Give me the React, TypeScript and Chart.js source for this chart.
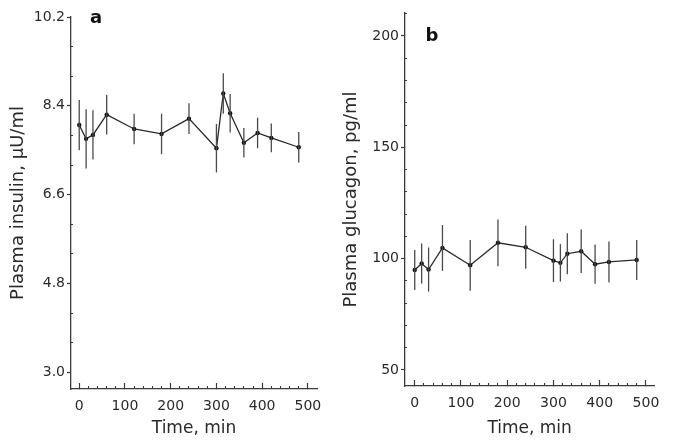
import React, { useEffect, useRef } from "react";
import { Chart, registerables } from "chart.js";

Chart.register(...registerables);

// ---- data ----
const timesInsulin = [0, 15, 30, 60, 120, 180, 240, 300, 315, 330, 360, 390, 420, 480];
const insulinMean = [8.01, 7.73, 7.81, 8.22, 7.93, 7.83, 8.14, 7.54, 8.65, 8.25, 7.65, 7.85, 7.75, 7.56];
const insulinSem = [0.51, 0.6, 0.5, 0.4, 0.31, 0.41, 0.31, 0.49, 0.41, 0.39, 0.3, 0.31, 0.29, 0.31];

const timesGlucagon = [0, 15, 30, 60, 120, 180, 240, 300, 315, 330, 360, 390, 420, 480];
const glucagonMean = [94.9, 97.8, 95.1, 104.8, 97.0, 107.1, 105.1, 99.1, 98.1, 102.2, 103.3, 97.5, 98.5, 99.4];
const glucagonSem = [9.0, 9.0, 9.9, 10.3, 11.4, 10.5, 9.7, 9.6, 8.4, 9.2, 9.8, 8.8, 9.2, 9.0];

const timeTicks = [0, 100, 200, 300, 400, 500];
const timeMinorTicks = [20, 40, 60, 80, 120, 140, 160, 180, 220, 240, 260, 280, 320, 340, 360, 380, 420, 440, 460, 480];
const insulinTicks = [3.0, 4.8, 6.6, 8.4, 10.2];
const insulinMinorTicks = [3.6, 4.2, 5.4, 6.0, 7.2, 7.8, 9.0, 9.6];
const glucagonTicks = [50, 100, 150, 200];
const glucagonMinorTicks = [60, 70, 80, 90, 110, 120, 130, 140, 160, 170, 180, 190, 200, 210].filter((v) => v !== 200);

const xTitle = "Time, min";
const insulinTitle = "Plasma insulin, \u03bcU/ml";
const glucagonTitle = "Plasma glucagon, pg/ml";

// ---- styles ----
const FONT = "'DejaVu Sans', 'Liberation Sans', sans-serif";
const INK = "#2a2a2a";
const AXIS = "#3a3a3a";

type PanelSpec = {
  letter: string;
  letterDx: number;
  letterY: number;
  times: number[];
  mean: number[];
  sem: number[];
  xMin: number;
  xMax: number;
  yMin: number;
  yMax: number;
  yTicks: number[];
  yMinor: number[];
  decimals: number;
  yTitle: string;
  yWidth: number;
  yTitlePad: number;
  xHeight: number;
  padTop: number;
  padRight: number;
};

const errorBarPlugin = {
  id: "errorBars",
  afterDatasetsDraw(chart: any) {
    const spec: PanelSpec = chart.options.plugins.errorBars.spec;
    const xs = chart.scales.x;
    const ys = chart.scales.y;
    const ctx = chart.ctx;
    ctx.save();
    ctx.strokeStyle = "#4a4a4a";
    ctx.lineWidth = 1.3;
    spec.times.forEach((t: number, i: number) => {
      const px = xs.getPixelForValue(t);
      const top = ys.getPixelForValue(spec.mean[i] + spec.sem[i]);
      const bot = ys.getPixelForValue(spec.mean[i] - spec.sem[i]);
      ctx.beginPath();
      ctx.moveTo(px, top);
      ctx.lineTo(px, bot);
      ctx.stroke();
    });
    ctx.restore();
  },
};

const letterPlugin = {
  id: "panelLetter",
  afterDraw(chart: any) {
    const spec: PanelSpec = chart.options.plugins.panelLetter.spec;
    const ctx = chart.ctx;
    ctx.save();
    ctx.font = `bold 18px ${FONT}`;
    ctx.fillStyle = "#111";
    ctx.textAlign = "center";
    ctx.textBaseline = "middle";
    ctx.fillText(spec.letter, chart.chartArea.left + spec.letterDx, spec.letterY);
    ctx.restore();
  },
};

function makeChart(canvas: HTMLCanvasElement, spec: PanelSpec) {
  return new Chart(canvas, {
    type: "line",
    data: {
      datasets: [
        {
          data: spec.times.map((t, i) => ({ x: t, y: spec.mean[i] })),
          borderColor: INK,
          borderWidth: 1.3,
          pointRadius: 2.2,
          pointBackgroundColor: "#111",
          pointBorderWidth: 0,
          tension: 0,
          fill: false,
        },
      ],
    },
    options: {
      animation: false,
      responsive: false,
      devicePixelRatio: 1,
      layout: { padding: { left: 0, right: spec.padRight, top: spec.padTop, bottom: 0 } },
      plugins: {
        legend: { display: false },
        tooltip: { enabled: false },
        errorBars: { spec },
        panelLetter: { spec },
      } as any,
      scales: {
        x: {
          type: "linear",
          position: "bottom",
          weight: 1,
          min: spec.xMin,
          max: spec.xMax,
          afterBuildTicks: (s: any) => {
            s.ticks = timeTicks.map((v) => ({ value: v }));
          },
          afterFit: (s: any) => {
            s.height = spec.xHeight;
          },
          grid: { drawOnChartArea: false, drawTicks: true, tickLength: -6, tickColor: AXIS, tickWidth: 1.2 },
          border: { display: true, color: AXIS, width: 1.3 },
          ticks: {
            padding: 15,
            autoSkip: false,
            maxRotation: 0,
            color: INK,
            font: { family: FONT, size: 14 },
            callback: (v: any) => String(v),
          },
          title: {
            display: true,
            text: xTitle,
            color: INK,
            font: { family: FONT, size: 17 },
            padding: { top: 0, bottom: 3 },
          },
        },
        xMinor: {
          type: "linear",
          axis: "x",
          position: "bottom",
          weight: 0,
          min: spec.xMin,
          max: spec.xMax,
          afterBuildTicks: (s: any) => {
            s.ticks = timeMinorTicks.map((v) => ({ value: v }));
          },
          afterFit: (s: any) => {
            s.height = 0;
          },
          grid: { drawOnChartArea: false, drawTicks: true, tickLength: -3, tickColor: AXIS, tickWidth: 1.1 },
          border: { display: false },
          ticks: { display: false },
        },
        y: {
          type: "linear",
          position: "left",
          weight: 1,
          min: spec.yMin,
          max: spec.yMax,
          afterBuildTicks: (s: any) => {
            s.ticks = spec.yTicks.map((v) => ({ value: v }));
          },
          afterFit: (s: any) => {
            s.width = spec.yWidth;
          },
          grid: { drawOnChartArea: false, drawTicks: true, tickLength: 4, tickColor: AXIS, tickWidth: 1.2 },
          border: { display: true, color: AXIS, width: 1.3 },
          ticks: {
            padding: 2,
            autoSkip: false,
            color: INK,
            font: { family: FONT, size: 14 },
            callback: (v: any) => Number(v).toFixed(spec.decimals),
          },
          title: {
            display: true,
            text: spec.yTitle,
            color: INK,
            font: { family: FONT, size: 18 },
            padding: { top: spec.yTitlePad, bottom: 0 },
          },
        },
        yMinor: {
          type: "linear",
          axis: "y",
          position: "left",
          weight: 0,
          min: spec.yMin,
          max: spec.yMax,
          afterBuildTicks: (s: any) => {
            s.ticks = spec.yMinor.map((v) => ({ value: v }));
          },
          afterFit: (s: any) => {
            s.width = 0;
          },
          grid: { drawOnChartArea: false, drawTicks: true, tickLength: -2, tickColor: AXIS, tickWidth: 1.1 },
          border: { display: false },
          ticks: { display: false },
        },
      } as any,
    },
    plugins: [errorBarPlugin, letterPlugin],
  });
}

const specA: PanelSpec = {
  letter: "a",
  letterDx: 25,
  letterY: 18,
  times: timesInsulin,
  mean: insulinMean,
  sem: insulinSem,
  xMin: -18,
  xMax: 520,
  yMin: 2.66,
  yMax: 10.2,
  yTicks: insulinTicks,
  yMinor: insulinMinorTicks,
  decimals: 1,
  yTitle: insulinTitle,
  yWidth: 71,
  yTitlePad: 8,
  xHeight: 53,
  padTop: 17,
  padRight: 18,
};

const specB: PanelSpec = {
  letter: "b",
  letterDx: 27,
  letterY: 36,
  times: timesGlucagon,
  mean: glucagonMean,
  sem: glucagonSem,
  xMin: -21,
  xMax: 518,
  yMin: 42.8,
  yMax: 210.3,
  yTicks: glucagonTicks,
  yMinor: glucagonMinorTicks,
  decimals: 0,
  yTitle: glucagonTitle,
  yWidth: 68,
  yTitlePad: 4,
  xHeight: 56,
  padTop: 13,
  padRight: 17,
};

function Panel({ spec, width }: { spec: PanelSpec; width: number }) {
  const ref = useRef<HTMLCanvasElement | null>(null);
  useEffect(() => {
    if (!ref.current) return;
    const chart = makeChart(ref.current, spec);
    return () => chart.destroy();
  }, [spec]);
  return <canvas ref={ref} width={width} height={442} style={{ display: "block", width, height: 442 }} />;
}

export default function App() {
  return (
    <div
      style={{
        position: "absolute",
        left: 0,
        top: 0,
        width: 675,
        height: 442,
        background: "#ffffff",
        display: "flex",
        flexDirection: "row",
      }}
    >
      <Panel spec={specA} width={337} />
      <Panel spec={specB} width={338} />
    </div>
  );
}
